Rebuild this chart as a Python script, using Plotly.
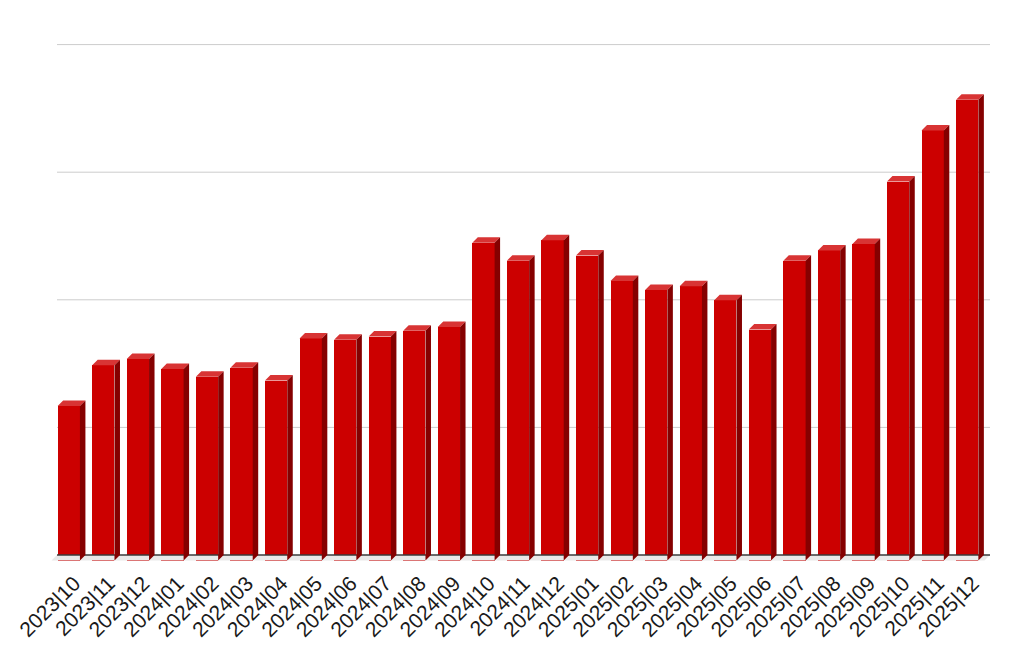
import plotly.graph_objects as go

# ---- data ----
months = ["2023|10", "2023|11", "2023|12", "2024|01", "2024|02", "2024|03", "2024|04",
          "2024|05", "2024|06", "2024|07", "2024|08", "2024|09", "2024|10", "2024|11",
          "2024|12", "2025|01", "2025|02", "2025|03", "2025|04", "2025|05", "2025|06",
          "2025|07", "2025|08", "2025|09", "2025|10", "2025|11", "2025|12"]
values = [1.21, 1.53, 1.58, 1.50, 1.44, 1.51, 1.41,
          1.74, 1.73, 1.755, 1.80, 1.83, 2.49, 2.35,
          2.51, 2.39, 2.19, 2.12, 2.15, 2.04, 1.81,
          2.35, 2.43, 2.48, 2.97, 3.37, 3.61]
grid_levels = [1, 2, 3, 4]

# ---- style ----
FRONT = "#cc0000"
TOP = "#d83434"
SIDE = "#850000"
FLOOR = "#e9e9e9"
DX = 0.159      # depth offset in category units
DY = 0.0431     # depth offset in value units
W = 0.645       # front-face width in category units

n = len(values)
idx = list(range(n))
front_x = [i - DX for i in idx]

fig = go.Figure()

# floor
fx = [-0.5, n - 0.5, n - 0.5 - DX, -0.5 - DX, -0.5]
fy = [0, 0, -DY, -DY, 0]
fig.add_trace(go.Scatter(x=fx, y=fy, fill="toself", fillcolor=FLOOR, mode="lines",
                         line=dict(width=0), hoverinfo="skip", showlegend=False))
# back baseline
fig.add_trace(go.Scatter(x=[-0.5, n - 0.5], y=[0, 0], mode="lines",
                         line=dict(color="#3a3a3a", width=1.5), hoverinfo="skip", showlegend=False))

# front faces
fig.add_trace(go.Bar(x=front_x, y=values, base=[-DY] * n, width=W, marker=dict(color=FRONT, line=dict(width=0)),
                     hoverinfo="skip", showlegend=False))

# top faces
tx, ty = [], []
for xc, v in zip(front_x, values):
    l, r = xc - W / 2, xc + W / 2
    tx += [l, l + DX, r + DX, r, l, None]
    ty += [v - DY, v, v, v - DY, v - DY, None]
fig.add_trace(go.Scatter(x=tx, y=ty, fill="toself", fillcolor=TOP, mode="lines",
                         line=dict(width=0), hoverinfo="skip", showlegend=False))

# side faces
sx, sy = [], []
for xc, v in zip(front_x, values):
    r = xc + W / 2
    sx += [r, r + DX, r + DX, r, r, None]
    sy += [-DY, 0, v, v - DY, -DY, None]
fig.add_trace(go.Scatter(x=sx, y=sy, fill="toself", fillcolor=SIDE, mode="lines",
                         line=dict(width=0), hoverinfo="skip", showlegend=False))

# gridlines on the back wall
for g in grid_levels:
    fig.add_shape(type="line", xref="x", yref="y", x0=-0.5, x1=n - 0.5, y0=g, y1=g,
                  line=dict(color="#cccccc", width=1), layer="below")

fig.update_layout(
    width=1016, height=664,
    margin=dict(l=41, r=34, t=32, b=106, autoexpand=False),
    paper_bgcolor="white", plot_bgcolor="white",
    bargap=0,
    font=dict(family="Liberation Sans, Arial, sans-serif", color="#1a1a1a"),
    xaxis=dict(range=[-0.5 - 8 / 34.556, n - 0.5], tickmode="array", tickvals=idx, ticktext=months,
               tickangle=-45, tickfont=dict(size=21, color="#1a1a1a"), showgrid=False, zeroline=False,
               showline=False, ticks=""),
    yaxis=dict(range=[-0.0862, 4.036], showgrid=False, zeroline=False, showticklabels=False,
               showline=False, ticks=""),
)

fig.write_html("out.html")
